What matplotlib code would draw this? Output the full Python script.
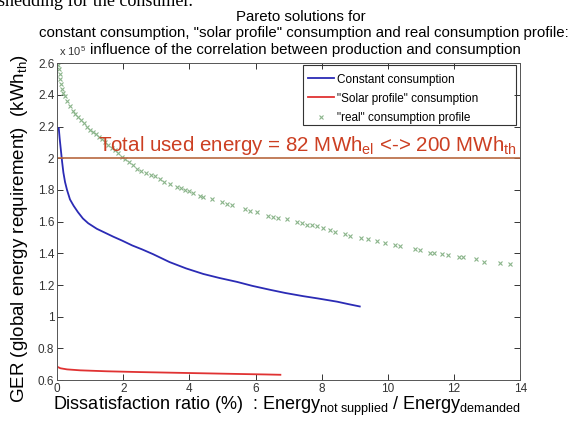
import matplotlib
matplotlib.use("Agg")
import matplotlib.pyplot as plt
from matplotlib.patches import Rectangle

# 字型：MATLAB 風格的 Helvetica -> Liberation Sans
plt.rcParams["font.family"] = ["Liberation Sans", "DejaVu Sans"]
plt.rcParams["mathtext.fontset"] = "custom"
plt.rcParams["mathtext.rm"] = "Liberation Sans"
plt.rcParams["mathtext.it"] = "Liberation Sans:italic"
plt.rcParams["mathtext.default"] = "regular"

# ---- data (GER in 1e5 kWh_th, dissatisfaction ratio in %) ----
const_x = [0.05, 0.08, 0.11, 0.15, 0.19, 0.24, 0.30, 0.39, 0.50, 0.63, 0.78, 0.94,
           1.20, 1.45, 1.70, 1.97, 2.27, 2.57, 2.90, 3.40, 3.90, 4.42, 4.90, 5.44,
           5.90, 6.44, 6.90, 7.44, 7.90, 8.47, 8.80, 9.15]
const_y = [2.19, 2.12, 2.06, 1.98, 1.91, 1.85, 1.80, 1.74, 1.70, 1.66, 1.62, 1.59,
           1.555, 1.53, 1.505, 1.48, 1.45, 1.425, 1.395, 1.345, 1.305, 1.27, 1.245, 1.22,
           1.195, 1.17, 1.15, 1.13, 1.115, 1.095, 1.08, 1.065]

solar_x = [0.0, 0.05, 0.1, 0.3, 0.7, 1.5, 2.5, 3.5, 4.5, 5.5, 6.3, 6.75]
solar_y = [0.685, 0.68, 0.675, 0.668, 0.662, 0.656, 0.651, 0.647, 0.643, 0.639, 0.636, 0.634]

real_x = [0.03, 0.06, 0.08, 0.10, 0.12, 0.15, 0.19, 0.24, 0.30, 0.39, 0.47, 0.55,
          0.63, 0.72, 0.80, 0.90, 1.00, 1.08, 1.17, 1.26, 1.36, 1.45, 1.55, 1.65,
          1.75, 1.85, 1.96, 2.06, 2.17, 2.29, 2.41, 2.55, 2.70, 2.83, 2.96, 3.10,
          3.22, 3.42, 3.62, 3.74, 3.87, 4.00, 4.12, 4.32, 4.42, 4.68, 4.98, 5.13,
          5.28, 5.68, 5.84, 6.04, 6.39, 6.54, 6.69, 6.95, 7.25, 7.40, 7.55, 7.70,
          7.85, 8.05, 8.25, 8.41, 8.71, 8.84, 9.18, 9.41, 9.67, 9.92, 10.22, 10.37,
          10.83, 10.98, 11.28, 11.40, 11.63, 11.83, 12.14, 12.27, 12.66, 12.91, 13.40, 13.70]
real_y = [2.59, 2.56, 2.53, 2.50, 2.47, 2.44, 2.41, 2.39, 2.36, 2.33, 2.30, 2.28,
          2.26, 2.24, 2.22, 2.20, 2.18, 2.165, 2.15, 2.135, 2.12, 2.10, 2.085, 2.065,
          2.05, 2.03, 2.01, 1.995, 1.975, 1.955, 1.935, 1.92, 1.905, 1.895, 1.885, 1.87,
          1.852, 1.837, 1.821, 1.81, 1.80, 1.791, 1.78, 1.764, 1.757, 1.742, 1.722, 1.711,
          1.705, 1.679, 1.669, 1.658, 1.637, 1.631, 1.625, 1.616, 1.595, 1.589, 1.582, 1.578,
          1.574, 1.563, 1.55, 1.535, 1.52, 1.511, 1.50, 1.489, 1.475, 1.464, 1.454, 1.445,
          1.426, 1.42, 1.405, 1.403, 1.394, 1.388, 1.38, 1.378, 1.363, 1.346, 1.337, 1.331]

total_energy = 2.0
x_ticks = [0, 2, 4, 6, 8, 10, 12, 14]
y_ticks = [0.6, 0.8, 1.0, 1.2, 1.4, 1.6, 1.8, 2.0, 2.2, 2.4, 2.6]
y_tick_labels = ["0.6", "0.8", "1", "1.2", "1.4", "1.6", "1.8", "2", "2.2", "2.4", "2.6"]

# ---- figure ----
fig = plt.figure(figsize=(5.71, 4.21), dpi=100)
ax = fig.add_axes([0.100, 0.097, 0.811, 0.753])

ax.plot(const_x, const_y, color="#2b2bb5", linewidth=1.3, label="Constant consumption")
ax.plot(solar_x, solar_y, color="#e03232", linewidth=1.3, label="\"Solar profile\" consumption")
ax.plot(real_x, real_y, linestyle="none", marker="x", markersize=3, markeredgewidth=0.8,
        color="#8ab48a", label="\"real\" consumption profile")

ax.axhline(total_energy, color="#b8683f", linewidth=1.2)
ax.text(1.25, 2.045, r"Total used energy = 82 MWh$_{el}$ <-> 200 MWh$_{th}$",
        color="#cc3f22", fontsize=14.8, ha="left", va="baseline")

ax.set_xlim(0, 14)
ax.set_ylim(0.6, 2.6)
ax.set_xticks(x_ticks)
ax.set_yticks(y_ticks)
ax.set_yticklabels(y_tick_labels)
ax.tick_params(direction="in", length=4, width=0.7, top=True, right=True,
               labelsize=8.5, pad=2, colors="#333333", labelcolor="#333333")
for sp in ax.spines.values():
    sp.set_linewidth(0.7)
    sp.set_color("#555555")

# 圖例：MATLAB 的框比文字寬，框另外畫
leg = ax.legend(loc="upper left", bbox_to_anchor=(0.531, 0.984), fontsize=8.5,
                frameon=False, handlelength=2.2, labelspacing=0.6, borderpad=0.45,
                borderaxespad=0, handletextpad=0.25)
ax.add_patch(Rectangle((0.531, 0.804), 0.46, 0.19, transform=ax.transAxes,
                       facecolor="none", edgecolor="#333333", linewidth=0.8, zorder=5))

# 10^5 倍數標示 (MATLAB 風格)
ax.text(0.004, 1.016, r"x 10$^5$", transform=ax.transAxes, fontsize=8, ha="left", va="bottom",
        color="#333333")

# 標題 (三行)
fig.text(0.527, 0.960, "Pareto solutions for", ha="center", va="center", fontsize=10.8)
fig.text(0.532, 0.922, "constant consumption, \"solar profile\" consumption and real consumption profile:",
         ha="center", va="center", fontsize=10.8)
fig.text(0.158, 0.881, "influence of the correlation between production and consumption",
         ha="left", va="center", fontsize=10.8)

# 上方被切掉的內文
fig.text(-0.003, 0.985, "shedding for the consumer.", family=["Liberation Serif", "DejaVu Serif"],
         fontsize=13, ha="left", va="baseline")

# 軸標籤
fig.text(0.035, 0.458, r"GER (global energy requirement)  (kWh$_{th}$)", rotation=90,
         ha="center", va="center", fontsize=13.5)
fig.text(0.093, 0.027, r"Dissatisfaction ratio (%)  : Energy$_{not\ supplied}$ / Energy$_{demanded}$",
         ha="left", va="baseline", fontsize=13)

fig.savefig("out.png", dpi=100, facecolor="white")
